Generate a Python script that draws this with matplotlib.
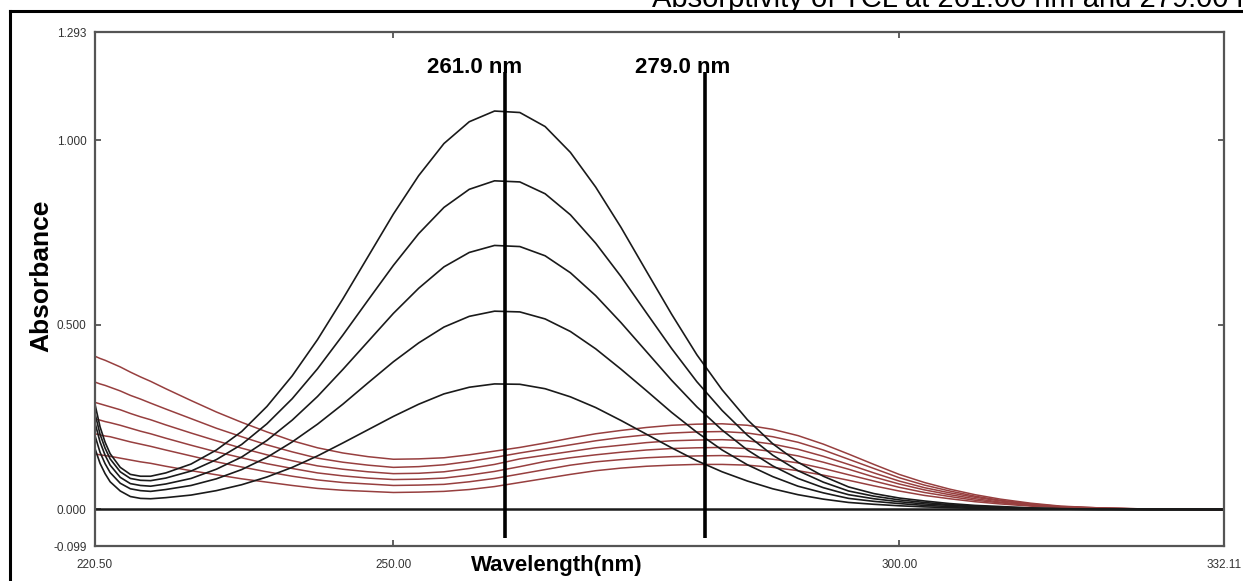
import matplotlib
matplotlib.use("Agg")
import matplotlib.pyplot as plt
from matplotlib.lines import Line2D

plt.rcParams["font.family"] = ["Liberation Sans", "DejaVu Sans"]

# wavelength grid (nm)
wavelength = [220.5, 221, 221.5, 222, 223, 224, 225, 226, 227.5,
              230, 232.5, 235, 237.5, 240, 242.5, 245, 247.5, 250,
              252.5, 255, 257.5, 260, 262.5, 265, 267.5, 270, 272.5, 275, 277.5, 280,
              282.5, 285, 287.5, 290, 292.5, 295, 297.5, 300, 302.5, 305, 307.5, 310,
              313, 316, 320, 325, 332.11]

# black spectra (band at 261 nm)
black_1 = [0.285, 0.224, 0.182, 0.151, 0.114, 0.095, 0.090, 0.090, 0.099,
           0.123, 0.161, 0.211, 0.279, 0.362, 0.460, 0.570, 0.685, 0.800,
           0.904, 0.991, 1.050, 1.079, 1.075, 1.037, 0.967, 0.873, 0.764, 0.646, 0.529, 0.419,
           0.324, 0.243, 0.178, 0.128, 0.090, 0.061, 0.043, 0.031, 0.023, 0.016, 0.011, 0.008,
           0.004, 0.002, 0.001, 0.0, 0.0]
black_2 = [0.260, 0.204, 0.166, 0.137, 0.102, 0.084, 0.079, 0.078, 0.085,
           0.104, 0.135, 0.176, 0.232, 0.300, 0.381, 0.472, 0.567, 0.661,
           0.747, 0.818, 0.867, 0.890, 0.887, 0.855, 0.798, 0.721, 0.631, 0.533, 0.436, 0.346,
           0.268, 0.201, 0.147, 0.105, 0.074, 0.050, 0.036, 0.026, 0.019, 0.013, 0.009, 0.006,
           0.004, 0.002, 0.001, 0.0, 0.0]
black_3 = [0.235, 0.183, 0.147, 0.120, 0.087, 0.070, 0.065, 0.063, 0.069,
           0.084, 0.109, 0.142, 0.187, 0.242, 0.306, 0.379, 0.455, 0.531,
           0.599, 0.657, 0.696, 0.715, 0.712, 0.687, 0.641, 0.579, 0.506, 0.428, 0.350, 0.278,
           0.215, 0.161, 0.118, 0.084, 0.059, 0.040, 0.029, 0.021, 0.015, 0.011, 0.007, 0.005,
           0.003, 0.001, 0.001, 0.0, 0.0]
black_4 = [0.200, 0.155, 0.124, 0.100, 0.071, 0.056, 0.051, 0.049, 0.054,
           0.065, 0.083, 0.108, 0.141, 0.183, 0.231, 0.285, 0.343, 0.400,
           0.451, 0.494, 0.523, 0.537, 0.535, 0.516, 0.482, 0.435, 0.380, 0.322, 0.263, 0.209,
           0.161, 0.121, 0.089, 0.063, 0.045, 0.030, 0.022, 0.016, 0.011, 0.008, 0.005, 0.004,
           0.002, 0.001, 0.0, 0.0, 0.0]
black_5 = [0.165, 0.125, 0.097, 0.075, 0.050, 0.035, 0.030, 0.029, 0.032,
           0.039, 0.051, 0.067, 0.088, 0.114, 0.145, 0.180, 0.216, 0.252,
           0.285, 0.313, 0.331, 0.340, 0.339, 0.327, 0.305, 0.276, 0.241, 0.204, 0.167, 0.132,
           0.102, 0.077, 0.056, 0.040, 0.028, 0.019, 0.014, 0.010, 0.007, 0.005, 0.003, 0.002,
           0.001, 0.001, 0.0, 0.0, 0.0]

# red spectra (broad band near 282 nm)
red_1 = [0.415, 0.409, 0.404, 0.398, 0.386, 0.372, 0.359, 0.347, 0.327,
         0.295, 0.264, 0.236, 0.210, 0.186, 0.167, 0.153, 0.143, 0.136,
         0.137, 0.140, 0.148, 0.158, 0.168, 0.180, 0.193, 0.205, 0.214, 0.222, 0.228, 0.231,
         0.232, 0.228, 0.217, 0.200, 0.177, 0.150, 0.122, 0.095, 0.073, 0.055, 0.040, 0.028,
         0.017, 0.009, 0.004, 0.001, 0.0]
red_2 = [0.345, 0.340, 0.336, 0.331, 0.321, 0.309, 0.299, 0.288, 0.272,
         0.246, 0.220, 0.197, 0.175, 0.156, 0.139, 0.128, 0.120, 0.114,
         0.116, 0.121, 0.130, 0.141, 0.153, 0.164, 0.175, 0.186, 0.195, 0.202, 0.207, 0.210,
         0.211, 0.207, 0.197, 0.182, 0.161, 0.136, 0.111, 0.086, 0.066, 0.050, 0.036, 0.025,
         0.015, 0.008, 0.004, 0.001, 0.0]
red_3 = [0.290, 0.286, 0.282, 0.278, 0.270, 0.260, 0.251, 0.243, 0.229,
         0.207, 0.186, 0.166, 0.148, 0.132, 0.118, 0.109, 0.102, 0.097,
         0.098, 0.102, 0.111, 0.122, 0.137, 0.147, 0.157, 0.167, 0.174, 0.181, 0.186, 0.188,
         0.189, 0.186, 0.177, 0.163, 0.144, 0.122, 0.099, 0.077, 0.059, 0.045, 0.033, 0.023,
         0.014, 0.007, 0.003, 0.001, 0.0]
red_4 = [0.245, 0.242, 0.238, 0.235, 0.228, 0.220, 0.212, 0.205, 0.193,
         0.174, 0.156, 0.140, 0.124, 0.111, 0.099, 0.091, 0.085, 0.081,
         0.082, 0.085, 0.093, 0.103, 0.116, 0.130, 0.140, 0.148, 0.155, 0.161, 0.165, 0.167,
         0.168, 0.165, 0.157, 0.145, 0.128, 0.109, 0.088, 0.069, 0.053, 0.040, 0.029, 0.020,
         0.012, 0.007, 0.003, 0.001, 0.0]
red_5 = [0.205, 0.202, 0.199, 0.197, 0.190, 0.183, 0.177, 0.171, 0.161,
         0.145, 0.129, 0.115, 0.102, 0.090, 0.080, 0.073, 0.069, 0.065,
         0.066, 0.068, 0.075, 0.084, 0.096, 0.108, 0.120, 0.129, 0.135, 0.140, 0.143, 0.145,
         0.146, 0.143, 0.136, 0.126, 0.111, 0.094, 0.077, 0.060, 0.046, 0.035, 0.025, 0.018,
         0.011, 0.006, 0.003, 0.001, 0.0]
red_6 = [0.150, 0.148, 0.146, 0.144, 0.139, 0.134, 0.129, 0.125, 0.117,
         0.105, 0.094, 0.083, 0.074, 0.065, 0.057, 0.052, 0.049, 0.046,
         0.047, 0.049, 0.054, 0.062, 0.073, 0.084, 0.095, 0.105, 0.112, 0.117, 0.120, 0.122,
         0.122, 0.120, 0.114, 0.105, 0.093, 0.079, 0.064, 0.050, 0.038, 0.029, 0.021, 0.015,
         0.009, 0.005, 0.002, 0.001, 0.0]

marker_x = [261.0, 280.8]
marker_labels = ["261.0 nm", "279.0 nm"]

x_ticks = [220.5, 250.0, 300.0, 332.11]
x_tick_labels = ["220.50", "250.00", "300.00", "332.11"]
y_ticks = [-0.099, 0.0, 0.5, 1.0, 1.293]
y_tick_labels = ["-0.099", "0.000", "0.500", "1.000", "1.293"]

fig = plt.figure(figsize=(12.43, 5.81), dpi=100)
ax = fig.add_axes([0.0764, 0.0602, 0.9083, 0.8847])

for ys in (red_1, red_2, red_3, red_4, red_5, red_6):
    ax.plot(wavelength, ys, color="#973f3f", lw=1.1)
for ys in (black_1, black_2, black_3, black_4, black_5):
    ax.plot(wavelength, ys, color="#1a1a1a", lw=1.2)

ax.axhline(0.0, color="#1a1a1a", lw=1.8)

label_dx = [-7.7, -6.9]
for xm, lab, dx in zip(marker_x, marker_labels, label_dx):
    ax.plot([xm, xm], [-0.076, 1.184], color="black", lw=2.6, solid_capstyle="butt")
    ax.text(xm + dx, 1.181, lab, fontsize=16, fontweight="bold", ha="left", va="baseline")

ax.set_xlim(220.5, 332.11)
ax.set_ylim(-0.099, 1.293)
ax.set_xticks(x_ticks)
ax.set_xticklabels(x_tick_labels)
ax.set_yticks(y_ticks)
ax.set_yticklabels(y_tick_labels)
ax.tick_params(direction="in", length=4, width=1.2, color="#444444", labelsize=8.5,
               labelcolor="#333333", top=True, right=True, pad=6)
ax.tick_params(axis="x", pad=9)
for sp in ax.spines.values():
    sp.set_color("#555555")
    sp.set_linewidth(1.6)

fig.text(41 / 1243, 1 - 276 / 581, "Absorbance", rotation=90, fontsize=19, fontweight="bold",
         ha="center", va="center")
fig.text(557 / 1243, 1 - 566 / 581, "Wavelength(nm)", fontsize=16, fontweight="bold",
         ha="center", va="center")

# page frame and the caption of the source document, cut at the top as in the scan
fig.add_artist(Line2D([10 / 1243, 1.0], [1 - 11 / 581, 1 - 11 / 581], color="black", lw=2.2))
fig.add_artist(Line2D([10 / 1243, 10 / 1243], [0.0, 1 - 11 / 581], color="black", lw=2.2))
fig.text(652 / 1243, 1 - 7 / 581, "Absorptivity of TCL at 261.00 nm and 279.00 nm", fontsize=21,
         ha="left", va="baseline")

fig.savefig("out.png", dpi=100)
